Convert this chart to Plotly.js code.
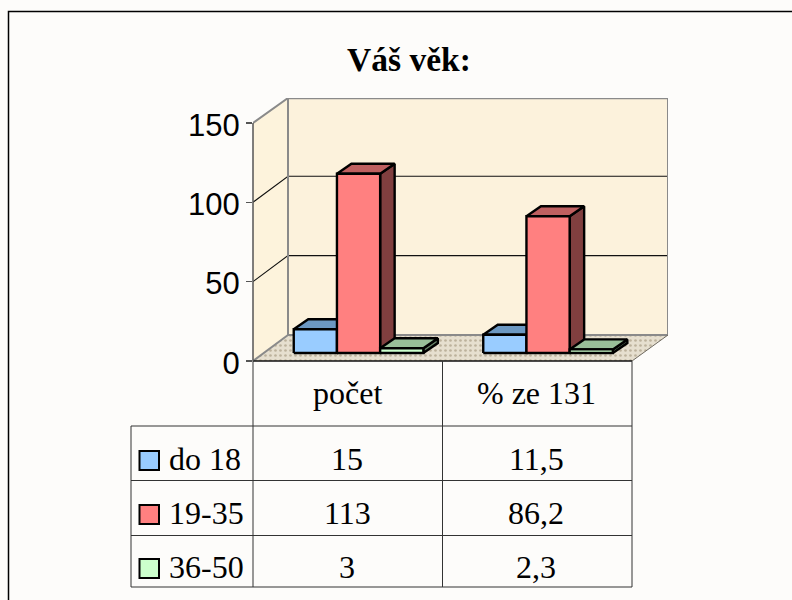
<!DOCTYPE html>
<html>
<head>
<meta charset="utf-8">
<script src="https://cdn.plot.ly/plotly-3.0.1.min.js"></script>
<style>html,body{margin:0;padding:0;background:#fdfcfa}#c{width:792px;height:600px}</style>
</head>
<body>
<div id="c"></div>
<script>
// ---- data ----
const categories = ['počet', '% ze 131'];
const seriesNames = ['do 18', '19-35', '36-50'];
const doOsmnact = [15, 11.5];
const devatenactPet = [113, 86.2];
const tricetSestPadesat = [3, 2.3];
const yTicks = [0, 50, 100, 150];
const chartTitle = 'Váš věk:';
// ---- style ----
const frontColors = ['#99ccff', '#ff8080', '#ccffcc'];
const topColors = ['#6c98c2', '#bf6060', '#99bf99'];
const sideColors = ['#4d6680', '#803f3f', '#668066'];
const W = 792, H = 600;
const series = [doOsmnact, devatenactPet, tricetSestPadesat];

// depth of the box in axis units
const wallDx = 0.1847, wallDy = 16.4, xMax = 2.19, yMax = 165.7;
const barW = 0.228, barGap = 0.158, baseDx = 0.057, baseDy = 5, depthDx = 0.0765, depthDy = 6.3;

const traces = [];
function poly(xs, ys, fill, line, width, pattern) {
  const t = {type: 'scatter', mode: 'lines', x: xs, y: ys, hoverinfo: 'skip', showlegend: false,
    line: {color: line || fill || '#000', width: width === undefined ? 2.4 : width}};
  if (fill) { t.fill = 'toself'; t.fillcolor = fill; }
  if (pattern) t.fillpattern = pattern;
  traces.push(t);
}
// walls and floor
poly([0, wallDx, wallDx, 0, 0], [0, wallDy, yMax, 150, 0], '#fdf3dc', '#fdf3dc', 0);
poly([wallDx, xMax, xMax, wallDx, wallDx], [wallDy, wallDy, yMax, yMax, wallDy], '#fcf2dc', '#fcf2dc', 0);
poly([0, 2, xMax, wallDx, 0], [0, 0, wallDy, wallDy, 0], '#ddd4c1', '#ddd4c1', 0,
  {shape: '.', fgcolor: '#bdb29c', bgcolor: '#e6dfcf', size: 5, solidity: 0.22});
// gridlines
[50, 100].forEach(v => poly([0, wallDx, xMax], [v, v + wallDy, v + wallDy], null, '#111111', 1.1));
// wall edges
poly([0, wallDx, wallDx, xMax, xMax], [150, yMax, wallDy, wallDy, yMax], null, '#8a8a8a', 2);
poly([wallDx, xMax], [yMax, yMax], null, '#8a8a8a', 2.5);
poly([0, wallDx], [0, wallDy], null, '#8a8a8a', 2);
poly([2, xMax], [0, wallDy], null, '#6f6a60', 1);
// 3D bars
categories.forEach((c, i) => {
  series.forEach((vals, s) => {
    const x0 = i + barGap + baseDx + s * barW, x1 = x0 + barW;
    const y0 = baseDy, y1 = baseDy + vals[i];
    poly([x1, x1 + depthDx, x1 + depthDx, x1, x1], [y0, y0 + depthDy, y1 + depthDy, y1, y0], sideColors[s], '#000');
    poly([x0, x0 + depthDx, x1 + depthDx, x1, x0], [y1, y1 + depthDy, y1 + depthDy, y1, y1], topColors[s], '#000');
    poly([x0, x1, x1, x0, x0], [y0, y0, y1, y1, y0], frontColors[s], '#000');
  });
});

// pixel helpers for the table (paper coordinates cover the whole figure)
const px = v => v / W, py = v => 1 - v / H;
function rule(x0, y0, x1, y1, color, width) {
  return {type: 'line', xref: 'paper', yref: 'paper', x0: px(x0), x1: px(x1), y0: py(y0), y1: py(y1),
    line: {color: color || '#333333', width: width || 1}};
}
const shapes = [
  {type: 'rect', layer: 'below', xref: 'paper', yref: 'paper', x0: px(8.5), x1: px(830), y0: py(11.5), y1: py(640),
    fillcolor: '#fdfcfa', line: {color: '#000', width: 1.5}},
];
const colX = [253, 442.5, 632], legendX = 131;
const rowY = [361, 426, 480.5, 535.5, 587];
rowY.forEach((y, r) => shapes.push(rule(r === 0 ? colX[0] : legendX, y, colX[2], y, r === 0 ? '#111' : '#333', r === 0 ? 1.5 : 1)));
colX.forEach(x => shapes.push(rule(x, 361, x, rowY[4])));
shapes.push(rule(legendX, rowY[1], legendX, rowY[4]));
shapes.push(rule(253, 123, 253, 361, '#555555', 1.5));
const swatchY = [451, 505, 559];
seriesNames.forEach((n, s) => shapes.push({type: 'rect', xref: 'paper', yref: 'paper',
  x0: px(139.5), x1: px(159), y0: py(swatchY[s]), y1: py(swatchY[s] + 19), fillcolor: frontColors[s],
  line: {color: '#000', width: 2}}));

const serif = 'Liberation Serif, serif';
const annotations = [];
function label(text, x, y, anchor) {
  annotations.push({text, xref: 'paper', yref: 'paper', x: px(x), y: py(y), xanchor: anchor || 'center',
    yanchor: 'middle', showarrow: false, font: {family: serif, size: 32, color: '#000'}});
}
const colCenter = [347, 536];
categories.forEach((c, i) => label(c, colCenter[i], 393));
const textY = [459, 513, 567];
seriesNames.forEach((n, s) => {
  label(n, 167, textY[s], 'left');
  categories.forEach((c, i) => label(String(series[s][i]).replace('.', ','), colCenter[i], textY[s]));
});

const layout = {
  width: W, height: H, margin: {l: 0, r: 0, t: 0, b: 0},
  paper_bgcolor: '#fdfcfa', plot_bgcolor: 'rgba(0,0,0,0)', showlegend: false,
  title: {text: '<b>' + chartTitle + '</b>', x: 409 / W, xanchor: 'center', y: 1 - 59 / H, yanchor: 'middle',
    font: {family: serif, size: 33.5, color: '#000'}},
  xaxis: {domain: [253 / W, 668 / W], range: [0, xMax], visible: false, fixedrange: true},
  yaxis: {domain: [1 - 361 / H, 1 - 98 / H], range: [0, yMax], tickvals: yTicks, ticks: 'outside', ticklen: 6,
    tickcolor: '#555555', tickwidth: 1.5, showgrid: false, zeroline: false, showline: false, fixedrange: true,
    ticklabelshift: 2,
    tickfont: {family: 'Liberation Sans, Arial, sans-serif', size: 31, color: '#000'}},
  shapes, annotations
};
Plotly.newPlot('c', traces, layout, {displayModeBar: false, staticPlot: true});
</script>
</body>
</html>
